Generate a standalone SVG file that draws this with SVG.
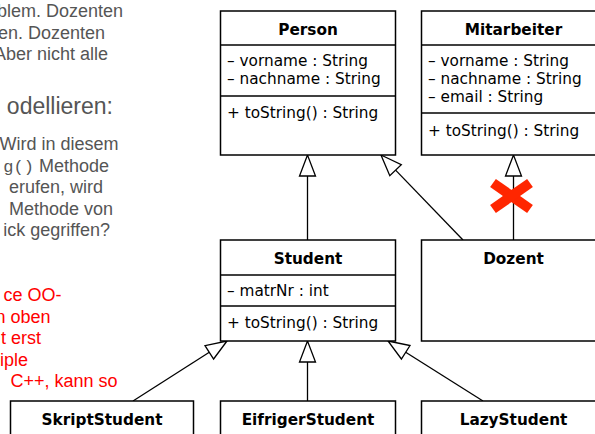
<svg xmlns="http://www.w3.org/2000/svg" width="595" height="434" viewBox="0 0 595 434">
<style>
.box{fill:#fff;stroke:#000;stroke-width:1.5}
.div{stroke:#000;stroke-width:1.5}
.title{font-family:"DejaVu Sans",Verdana,sans-serif;font-weight:bold;font-size:15.3px;text-anchor:middle;fill:#000}
.attr{font-family:"DejaVu Sans",Verdana,sans-serif;font-size:15.3px;fill:#000}
.line{stroke:#000;stroke-width:1.3;fill:none}
.head{fill:#fff;stroke:#000;stroke-width:1.3;stroke-linejoin:miter}
.note{font-family:"Liberation Sans",Arial,sans-serif;font-size:18px;text-anchor:end;fill:#555}
.big{font-size:23px}
.red{fill:#ff0000}
.mono{font-family:"Liberation Mono","Courier New",monospace;font-size:17px}
.cross{stroke:#ff2600;stroke-width:10;stroke-linecap:butt}
</style>
<rect width="595" height="434" fill="#fff"/>
<g id="notes">
<text class="note" x="123" y="17">blem. Dozenten</text>
<text class="note" x="105" y="38.6">en. Dozenten</text>
<text class="note" x="108" y="60.2">Aber nicht alle</text>
<text class="note big" x="113" y="114">odellieren:</text>
<text class="note" x="118.5" y="150">Wird in diesem</text>
<text class="note" x="109" y="171.6"><tspan class="mono">g()</tspan> Methode</text>
<text class="note" x="103" y="193.2">erufen, wird</text>
<text class="note" x="113" y="214.8">Methode von</text>
<text class="note" x="110" y="236.4">ick gegriffen?</text>
<text class="note red" x="61.5" y="301">ce OO-</text>
<text class="note red" x="50.5" y="322.6">n oben</text>
<text class="note red" x="41" y="344.2">t erst</text>
<text class="note red" x="28" y="365.8">iple</text>
<text class="note red" x="117.5" y="387.4">C++, kann so</text>
</g>
<g id="connectors">
<line class="line" x1="307.5" y1="176" x2="307.5" y2="240"/>
<polygon class="head" points="307.5,155 299.5,176 315.5,176"/>
<line class="line" x1="463" y1="240" x2="395.6" y2="170.1"/>
<polygon class="head" points="381,155 401.3,164.6 389.8,175.7"/>
<line class="line" x1="513.5" y1="176" x2="513.5" y2="240"/>
<polygon class="head" points="513.5,155 505.5,176 521.5,176"/>
<line class="line" x1="133" y1="401" x2="209.3" y2="352.3"/>
<polygon class="head" points="227,341 213.6,359 205,345.6"/>
<line class="line" x1="307.5" y1="362" x2="307.5" y2="401"/>
<polygon class="head" points="307.5,341 299.5,362 315.5,362"/>
<line class="line" x1="483" y1="401" x2="405.7" y2="352.2"/>
<polygon class="head" points="388,341 410,345.5 401.4,359"/>
</g>
<g id="cross">
<line class="cross" x1="493" y1="183" x2="530" y2="209"/>
<line class="cross" x1="493" y1="209" x2="530" y2="183"/>
</g>
<g id="Person">
<rect class="box" x="220.5" y="11" width="175" height="144"/>
<line class="div" x1="220.5" y1="45" x2="395.5" y2="45"/>
<line class="div" x1="220.5" y1="96" x2="395.5" y2="96"/>
<text class="title" x="308" y="35">Person</text>
<text class="attr" x="227" y="66">– vorname : String</text>
<text class="attr" x="227" y="84">– nachname : String</text>
<text class="attr" x="227" y="117.5">+ toString() : String</text>
</g>
<g id="Mitarbeiter">
<rect class="box" x="421.5" y="11" width="184" height="144"/>
<line class="div" x1="421.5" y1="45" x2="605.5" y2="45"/>
<line class="div" x1="421.5" y1="113" x2="605.5" y2="113"/>
<text class="title" x="513.5" y="35">Mitarbeiter</text>
<text class="attr" x="428" y="66">– vorname : String</text>
<text class="attr" x="428" y="84">– nachname : String</text>
<text class="attr" x="428" y="102">– email : String</text>
<text class="attr" x="428" y="135.5">+ toString() : String</text>
</g>
<g id="Student">
<rect class="box" x="220.5" y="240" width="175" height="101"/>
<line class="div" x1="220.5" y1="275" x2="395.5" y2="275"/>
<line class="div" x1="220.5" y1="306" x2="395.5" y2="306"/>
<text class="title" x="308" y="264">Student</text>
<text class="attr" x="227" y="296">– matrNr : int</text>
<text class="attr" x="227" y="328">+ toString() : String</text>
</g>
<g id="Dozent">
<rect class="box" x="421.5" y="240" width="184" height="101"/>
<text class="title" x="513.5" y="264">Dozent</text>
</g>
<g id="SkriptStudent">
<rect class="box" x="10.5" y="401" width="183" height="60"/>
<text class="title" x="102" y="425">SkriptStudent</text>
</g>
<g id="EifrigerStudent">
<rect class="box" x="220.5" y="401" width="175" height="60"/>
<text class="title" x="308" y="425">EifrigerStudent</text>
</g>
<g id="LazyStudent">
<rect class="box" x="421.5" y="401" width="184" height="60"/>
<text class="title" x="513.5" y="425">LazyStudent</text>
</g>
</svg>
